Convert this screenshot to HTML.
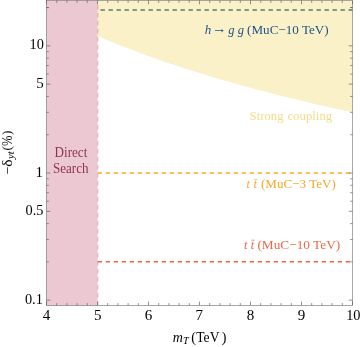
<!DOCTYPE html>
<html><head><meta charset="utf-8"><title>plot</title>
<style>
html,body{margin:0;padding:0;background:#fff;}
body{width:361px;height:347px;overflow:hidden;}
svg{display:block;will-change:transform;}
text{font-family:"Liberation Serif",serif;}
.i{font-style:italic;}
</style></head><body>
<svg width="361" height="347" viewBox="0 0 361 347">
<rect x="0" y="0" width="361" height="347" fill="#ffffff"/>
<path d="M97.50,0.50 L352.50,0.50 L352.50,112.43 L347.40,111.32 L342.30,110.20 L337.20,109.07 L332.10,107.93 L327.00,106.77 L321.90,105.60 L316.80,104.42 L311.70,103.23 L306.60,102.02 L301.50,100.80 L296.40,99.56 L291.30,98.32 L286.20,97.05 L281.10,95.78 L276.00,94.49 L270.90,93.18 L265.80,91.86 L260.70,90.52 L255.60,89.16 L250.50,87.79 L245.40,86.40 L240.30,84.99 L235.20,83.57 L230.10,82.12 L225.00,80.66 L219.90,79.18 L214.80,77.68 L209.70,76.15 L204.60,74.61 L199.50,73.04 L194.40,71.45 L189.30,69.84 L184.20,68.20 L179.10,66.54 L174.00,64.86 L168.90,63.15 L163.80,61.41 L158.70,59.64 L153.60,57.84 L148.50,56.02 L143.40,54.16 L138.30,52.27 L133.20,50.35 L128.10,48.40 L123.00,46.41 L117.90,44.38 L112.80,42.32 L107.70,40.21 L102.60,38.07 L97.50,35.88 Z" fill="#FAF1C8"/>
<rect x="46.50" y="0.50" width="51.10" height="304.90" fill="#ECC8D3"/>
<line x1="97.80" y1="0.50" x2="97.80" y2="305.40" stroke="#C0486C" stroke-opacity="0.27" stroke-width="1.5" stroke-dasharray="4.4 3.6" stroke-dashoffset="3.4"/>
<line x1="100.50" y1="10.00" x2="352.50" y2="10.00" stroke="#527F73" stroke-width="1.5" stroke-dasharray="4.4 3.6"/>
<line x1="97.60" y1="172.90" x2="352.50" y2="172.90" stroke="#F8AE30" stroke-width="1.5" stroke-dasharray="4.4 3.6"/>
<line x1="97.60" y1="261.85" x2="352.50" y2="261.85" stroke="#E96B4B" stroke-width="1.5" stroke-dasharray="4.4 3.6"/>
<rect x="46.50" y="0.50" width="306.00" height="304.90" fill="none" stroke="#6e6e6e" stroke-width="0.6"/>
<path d="M46.50,305.40v-3.80M46.50,0.50v3.80M56.70,305.40v-2.30M56.70,0.50v2.30M66.90,305.40v-2.30M66.90,0.50v2.30M77.10,305.40v-2.30M77.10,0.50v2.30M87.30,305.40v-2.30M87.30,0.50v2.30M97.50,305.40v-3.80M97.50,0.50v3.80M107.70,305.40v-2.30M107.70,0.50v2.30M117.90,305.40v-2.30M117.90,0.50v2.30M128.10,305.40v-2.30M128.10,0.50v2.30M138.30,305.40v-2.30M138.30,0.50v2.30M148.50,305.40v-3.80M148.50,0.50v3.80M158.70,305.40v-2.30M158.70,0.50v2.30M168.90,305.40v-2.30M168.90,0.50v2.30M179.10,305.40v-2.30M179.10,0.50v2.30M189.30,305.40v-2.30M189.30,0.50v2.30M199.50,305.40v-3.80M199.50,0.50v3.80M209.70,305.40v-2.30M209.70,0.50v2.30M219.90,305.40v-2.30M219.90,0.50v2.30M230.10,305.40v-2.30M230.10,0.50v2.30M240.30,305.40v-2.30M240.30,0.50v2.30M250.50,305.40v-3.80M250.50,0.50v3.80M260.70,305.40v-2.30M260.70,0.50v2.30M270.90,305.40v-2.30M270.90,0.50v2.30M281.10,305.40v-2.30M281.10,0.50v2.30M291.30,305.40v-2.30M291.30,0.50v2.30M301.50,305.40v-3.80M301.50,0.50v3.80M311.70,305.40v-2.30M311.70,0.50v2.30M321.90,305.40v-2.30M321.90,0.50v2.30M332.10,305.40v-2.30M332.10,0.50v2.30M342.30,305.40v-2.30M342.30,0.50v2.30M352.50,305.40v-3.80M352.50,0.50v3.80M46.50,300.15h3.80M352.50,300.15h-3.80M46.50,261.87h2.30M352.50,261.87h-2.30M46.50,239.48h2.30M352.50,239.48h-2.30M46.50,223.60h2.30M352.50,223.60h-2.30M46.50,211.28h3.80M352.50,211.28h-3.80M46.50,201.21h2.30M352.50,201.21h-2.30M46.50,192.70h2.30M352.50,192.70h-2.30M46.50,185.32h2.30M352.50,185.32h-2.30M46.50,178.82h2.30M352.50,178.82h-2.30M46.50,173.00h3.80M352.50,173.00h-3.80M46.50,134.72h2.30M352.50,134.72h-2.30M46.50,112.33h2.30M352.50,112.33h-2.30M46.50,96.45h2.30M352.50,96.45h-2.30M46.50,84.13h3.80M352.50,84.13h-3.80M46.50,74.06h2.30M352.50,74.06h-2.30M46.50,65.55h2.30M352.50,65.55h-2.30M46.50,58.17h2.30M352.50,58.17h-2.30M46.50,51.67h2.30M352.50,51.67h-2.30M46.50,45.85h3.80M352.50,45.85h-3.80M46.50,7.57h2.30M352.50,7.57h-2.30M46.50,7.57h2.30M352.50,7.57h-2.30" stroke="#5a5a5a" stroke-width="0.65" fill="none"/>
<text x="42.75" y="319.90" font-size="15" fill="#000">4</text>
<text x="94.12" y="319.90" font-size="15" fill="#000">5</text>
<text x="144.69" y="319.90" font-size="15" fill="#000">6</text>
<text x="195.44" y="319.90" font-size="15" fill="#000">7</text>
<text x="246.75" y="319.90" font-size="15" fill="#000">8</text>
<text x="297.81" y="319.90" font-size="15" fill="#000">9</text>
<text transform="translate(346.18,319.90) scale(0.9550,1)" font-size="15" fill="#000">10</text>
<text transform="translate(29.57,49.40) scale(0.9550,1)" font-size="15" fill="#000">10</text>
<text x="36.33" y="87.68" font-size="15" fill="#000">5</text>
<text x="35.58" y="176.55" font-size="15" fill="#000">1</text>
<text transform="translate(25.49,214.83) scale(0.9550,1)" font-size="15" fill="#000">0.5</text>
<text transform="translate(24.93,303.70) scale(0.9550,1)" font-size="15" fill="#000">0.1</text>
<text x="172.70" y="341.50" font-size="14" fill="#000" class="i">m</text>
<text x="183.07" y="344.20" font-size="10.2" fill="#000" class="i">T</text>
<text x="191.28" y="341.50" font-size="14" fill="#000">(</text>
<text transform="translate(196.26,341.50) scale(0.9702,1)" font-size="14" fill="#000">TeV</text>
<text x="221.80" y="341.50" font-size="14" fill="#000">)</text>
<text transform="translate(54.55,156.60) scale(0.9431,1)" font-size="13.9" fill="#8F3354">Direct</text>
<text transform="translate(52.98,173.10) scale(0.9415,1)" font-size="13.9" fill="#8F3354">Search</text>
<text x="204.80" y="34.30" font-size="13" fill="#1F5287" class="i">h</text>
<text x="212.00" y="32.90" font-size="14.5" fill="#1F5287">→</text>
<text transform="translate(228.30,34.30) scale(0.9638,1)" font-size="13" fill="#1F5287" class="i">g g</text>
<text transform="translate(247.09,34.40) scale(0.9778,1)" font-size="13.4" fill="#1F5287">(MuC−10 TeV)</text>
<text transform="translate(249.57,120.00) scale(0.9531,1)" font-size="13.4" fill="#F5DC88">Strong</text>
<text transform="translate(287.42,120.00) scale(0.9561,1)" font-size="13.4" fill="#F5DC88">coupling</text>
<text x="246.60" y="187.80" font-size="12.2" fill="#F3A826" class="i" letter-spacing="0.25">t t</text>
<text transform="translate(260.89,187.90) scale(0.9778,1)" font-size="13.4" fill="#F3A826">(MuC−3 TeV)</text>
<text x="243.90" y="248.60" font-size="12.2" fill="#E8694A" class="i" letter-spacing="0.25">t t</text>
<text transform="translate(257.38,248.60) scale(0.9936,1)" font-size="13.4" fill="#E8694A">(MuC−10 TeV)</text>
<path d="M254.4,179.6h3.2" stroke="#F3A826" stroke-width="0.7" fill="none"/>
<path d="M251.3,240.2h3.2" stroke="#E8694A" stroke-width="0.7" fill="none"/>
<g transform="translate(12,174) rotate(-90)" font-size="14" fill="#000"><text x="-0.3" y="0.4">−</text><text x="7.3" y="0" font-size="15.5">δ</text><text class="i" font-size="10.6" x="15.1" y="2.4">yt</text><text x="23.5" y="-0.9" font-size="13.4">(</text><text transform="translate(27.9,0) scale(0.85,1)" font-size="14.6">%</text><text x="39.1" y="-0.9" font-size="13.4">)</text></g>
</svg>
</body></html>
